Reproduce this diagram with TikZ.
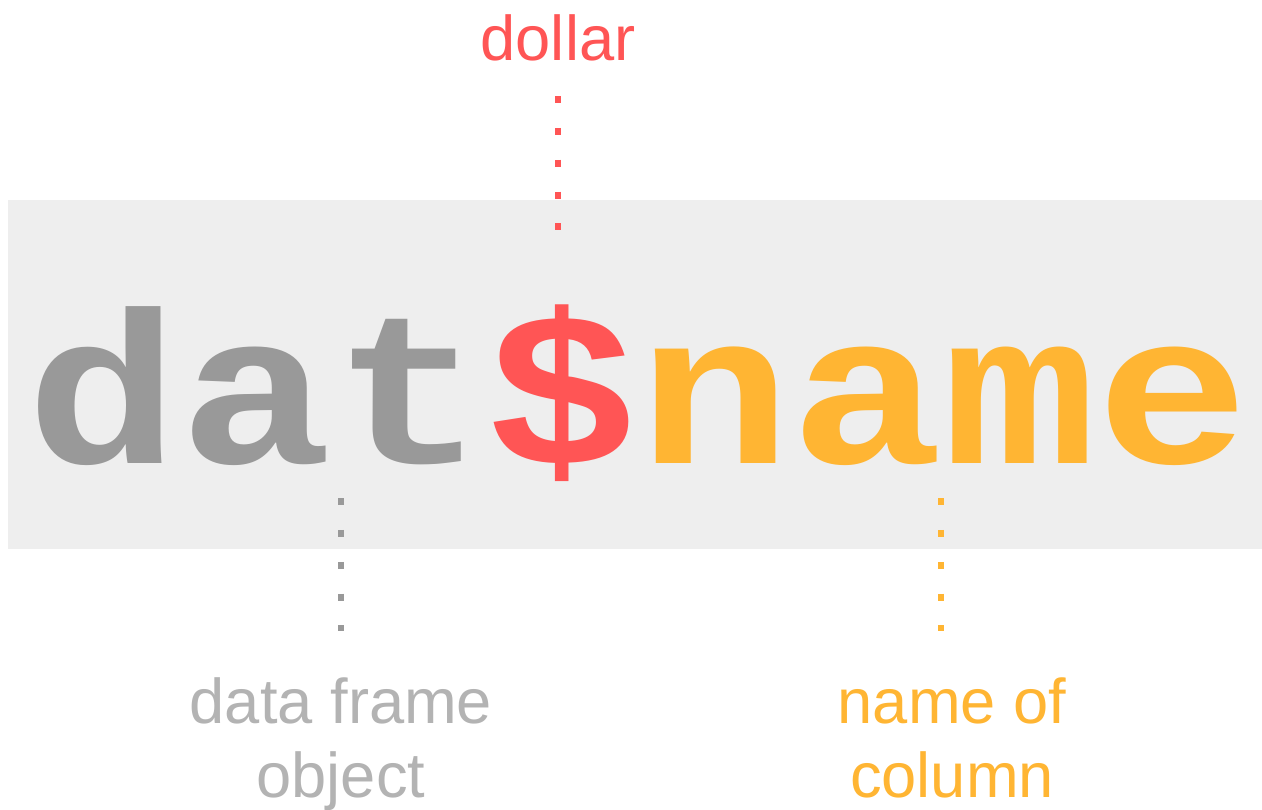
\documentclass[tikz,border=0pt]{standalone}
\usepackage{fontspec}
\usepackage{graphicx}
\setmainfont{Liberation Sans}
\newfontfamily\codefont{Liberation Mono}
\usepackage{tikz}
\usetikzlibrary{positioning}
\definecolor{boxgray}{HTML}{EEEEEE}
\definecolor{codegray}{HTML}{999999}
\definecolor{labelgray}{HTML}{B3B3B3}
\definecolor{dollarred}{HTML}{FF5555}
\definecolor{colorange}{HTML}{FFB533}
\newcommand{\squash}[1]{\scalebox{1}[0.85]{#1}}

\begin{document}
\begin{tikzpicture}[
x=0.02cm, y=-0.02cm,
code/.style={inner sep=0pt, outer sep=0pt, font=\codefont\bfseries\fontsize{145pt}{145pt}\selectfont},
label/.style={inner sep=0pt, align=center, font=\fontsize{36pt}{42pt}\selectfont},
dotline/.style={line width=3.4pt, dash pattern=on 3.97pt off 14.17pt}
]
    \useasboundingbox (0,0) rectangle (1262,809);

    % Grey band behind the code
    \fill [draw=none, fill=boxgray] (8,200) rectangle (1262,549);

    % The expression
    \node[code, text=codegray, anchor=base west] (dat) at (26.6,463) {\squash{dat}};
    \node[code, text=dollarred, anchor=base west] (sign) at (dat.base east) {\squash{\$}};
    \node[code, text=colorange, anchor=base west] (colname) at (sign.base east) {\squash{name}};

    % Labels
    \node[label, text=dollarred, anchor=base] (lbldollar) at (558,60) {dollar};
    \node[label, text=labelgray, anchor=base] (lbldf) at (341,797) {data frame\\object};
    \node[label, text=colorange, anchor=base] (lblcol) at (952,797) {name of\\column};

    \draw
    (558,96) coordinate (dollartop)
    (558,231) coordinate (dollarbot)
    (341,498) coordinate (dftop)
    (341,631) coordinate (dfbot)
    (941,498) coordinate (coltop)
    (941,631) coordinate (colbot);

    \draw[dotline, dollarred] (dollartop) -- (dollarbot);
    \draw[dotline, codegray] (dftop) -- (dfbot);
    \draw[dotline, colorange] (coltop) -- (colbot);

\end{tikzpicture}
\end{document}
